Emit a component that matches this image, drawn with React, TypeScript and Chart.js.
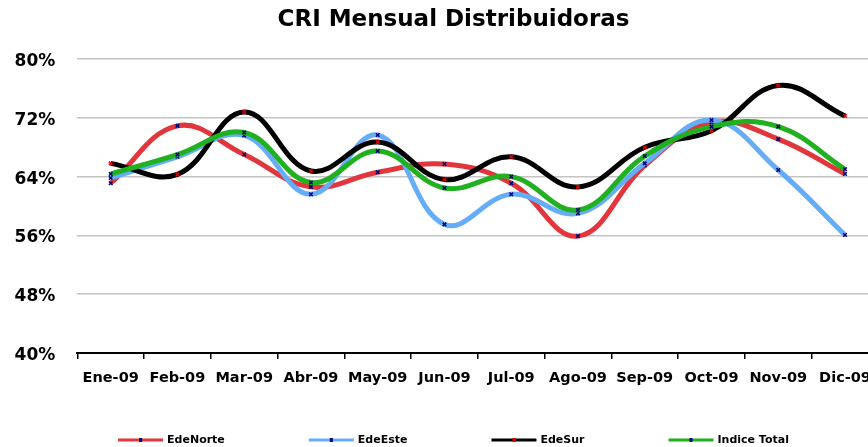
import React, { useEffect, useRef } from 'react';
import { Chart, registerables } from 'chart.js';

Chart.register(...registerables);

const categories = ['Ene-09', 'Feb-09', 'Mar-09', 'Abr-09', 'May-09', 'Jun-09', 'Jul-09', 'Ago-09', 'Sep-09', 'Oct-09', 'Nov-09', 'Dic-09'];
const edeNorte = [63.1, 70.9, 67.0, 62.6, 64.6, 65.7, 63.1, 55.9, 65.5, 71.4, 69.1, 64.35];
const edeEste = [63.8, 66.7, 69.6, 61.6, 69.66, 57.5, 61.6, 59.0, 65.8, 71.7, 64.9, 56.05];
const edeSur = [65.8, 64.3, 72.8, 64.76, 68.7, 63.6, 66.7, 62.6, 68.0, 70.25, 76.4, 72.25];
const indiceTotal = [64.35, 67.0, 70.0, 63.2, 67.48, 62.45, 64.0, 59.45, 66.8, 70.8, 70.8, 65.0];
const yMin = 40;
const yMax = 80;
const yStep = 8;
const titleText = 'CRI Mensual Distribuidoras';

const FONT = '"DejaVu Sans", sans-serif';

const legendPlugin = {
  id: 'customLegend',
  afterDraw(chart: any) {
    const ctx = chart.ctx;
    ctx.save();
    ctx.font = 'bold 11px ' + FONT;
    const lineLen = 45;
    const gapText = 4;
    const gapItem = 84;
    const items = chart.data.datasets.map((ds: any) => ({
      label: ds.label,
      color: ds.borderColor,
      marker: ds.pointBorderColor,
      w: ctx.measureText(ds.label).width,
    }));
    const total = items.reduce((s: number, it: any) => s + lineLen + gapText + it.w, 0) + gapItem * (items.length - 1);
    let x = chart.width / 2 - total / 2;
    const y = 440;
    for (const it of items) {
      ctx.strokeStyle = it.color;
      ctx.lineWidth = 3;
      ctx.beginPath();
      ctx.moveTo(x, y);
      ctx.lineTo(x + lineLen, y);
      ctx.stroke();
      ctx.fillStyle = it.marker;
      ctx.fillRect(x + lineLen / 2 - 1.5, y - 2, 3, 4);
      ctx.fillStyle = '#000';
      ctx.textBaseline = 'middle';
      ctx.textAlign = 'left';
      ctx.fillText(it.label, x + lineLen + gapText, y + 0.5);
      x += lineLen + gapText + it.w + gapItem;
    }
    ctx.restore();
  },
};

export default function App() {
  const ref = useRef<HTMLCanvasElement | null>(null);

  useEffect(() => {
    if (!ref.current) return;
    Chart.defaults.font.family = FONT;
    const mk = (label: string, data: number[], color: string, marker: string, order: number) => ({
      label,
      data,
      borderColor: color,
      backgroundColor: color,
      borderWidth: 5,
      tension: 0.4,
      pointStyle: 'crossRot',
      pointRadius: 2.5,
      pointBorderWidth: 1.5,
      pointBorderColor: marker,
      pointBackgroundColor: marker,
      order,
      fill: false,
      yAxisID: 'y',
    });
    const chart = new Chart(ref.current, {
      type: 'line',
      data: {
        labels: categories,
        datasets: [
          mk('EdeNorte', edeNorte, '#e0363c', '#00007a', 3),
          mk('EdeEste', edeEste, '#66adf8', '#00007a', 2),
          mk('EdeSur', edeSur, '#000000', '#e00000', 1),
          mk('Indice Total', indiceTotal, '#20b020', '#00007a', 0),
        ],
      },
      options: {
        animation: false,
        responsive: false,
        devicePixelRatio: 1,
        layout: { padding: { left: 0, right: 0, top: 0, bottom: 40 } },
        plugins: {
          legend: { display: false },
          tooltip: { enabled: false },
          title: {
            display: true,
            text: titleText,
            color: '#000',
            font: { size: 23, weight: 'bold', family: FONT },
            padding: { top: 6.4, bottom: 25 },
          },
        },
        scales: {
          x: {
            type: 'category',
            offset: true,
            grid: {
              offset: true,
              drawOnChartArea: false,
              drawTicks: true,
              tickLength: 6,
              color: '#000',
              lineWidth: 1.5,
            },
            border: { display: true, color: '#000', width: 2 },
            ticks: {
              color: '#000',
              font: { size: 14.5, weight: 'bold', family: FONT },
              padding: 11,
              maxRotation: 0,
              minRotation: 0,
              autoSkip: false,
            },
            afterFit(s: any) {
              s.height = 54;
            },
          },
          y: {
            min: yMin,
            max: yMax,
            grid: {
              color: (c: any) => (c.tick && c.tick.value === yMin ? 'rgba(0,0,0,0)' : '#c4c4c4'),
              lineWidth: 1.5,
              drawTicks: false,
            },
            border: { display: false },
            ticks: {
              stepSize: yStep,
              color: '#000',
              font: { size: 17, weight: 'bold', family: FONT },
              padding: 22,
              labelOffset: 2.5,
              callback: (v: any) => v + '%',
            },
            afterFit(s: any) {
              s.width = 77.3;
            },
          },
          yPad: {
            type: 'linear',
            position: 'right',
            min: yMin,
            max: yMax,
            grid: { display: false, drawOnChartArea: false, drawTicks: false },
            border: { display: false },
            ticks: { display: false },
            afterFit(s: any) {
              s.width = 28.6;
            },
          },
        },
      },
      plugins: [legendPlugin],
    } as any);
    return () => chart.destroy();
  }, []);

  return (
    <div style={{ position: 'fixed', left: 0, top: 0, width: 868, height: 447, overflow: 'hidden', background: '#fff' }}>
      <canvas ref={ref} width={907} height={447} style={{ width: 907, height: 447, display: 'block' }} />
    </div>
  );
}
